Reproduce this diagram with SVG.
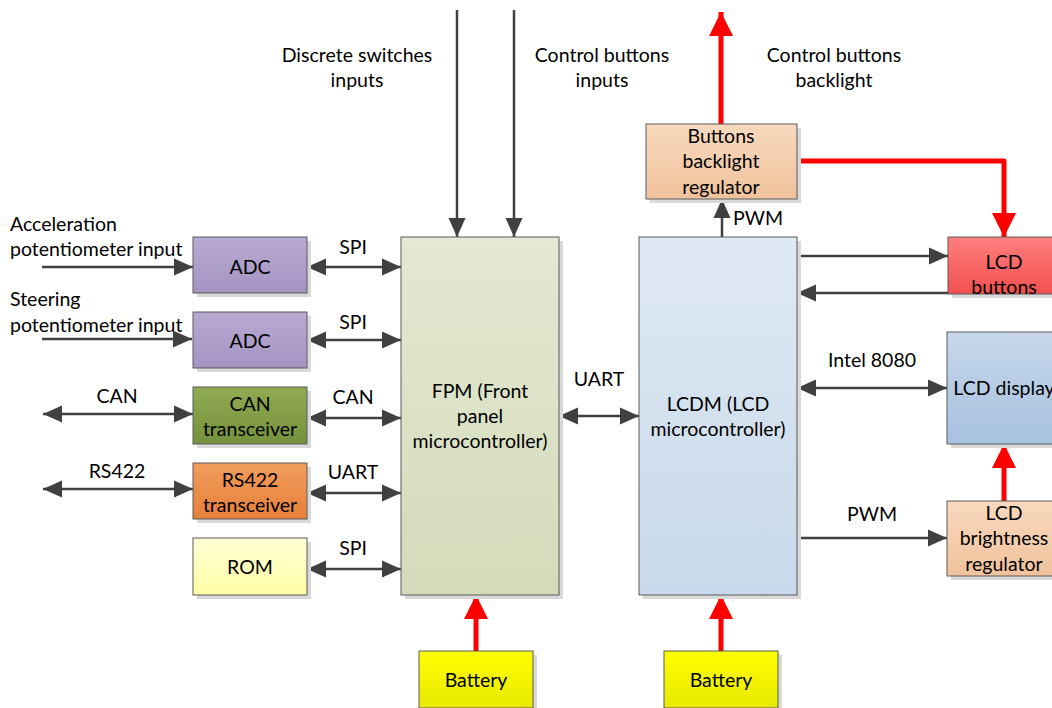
<svg xmlns="http://www.w3.org/2000/svg" width="1052" height="708" viewBox="0 0 1052 708">
<defs>
<linearGradient id="gADC" x1="0" y1="0" x2="0" y2="1"><stop offset="0" stop-color="#b8a9d2"/><stop offset="1" stop-color="#a594c2"/></linearGradient>
<linearGradient id="gCAN" x1="0" y1="0" x2="0" y2="1"><stop offset="0" stop-color="#91ab52"/><stop offset="1" stop-color="#76913c"/></linearGradient>
<linearGradient id="gRS" x1="0" y1="0" x2="0" y2="1"><stop offset="0" stop-color="#f19c5c"/><stop offset="1" stop-color="#e6803a"/></linearGradient>
<linearGradient id="gROM" x1="0" y1="0" x2="0" y2="1"><stop offset="0" stop-color="#ffffd4"/><stop offset="1" stop-color="#ffffa6"/></linearGradient>
<linearGradient id="gFPM" x1="0" y1="0" x2="0" y2="1"><stop offset="0" stop-color="#e3e9d2"/><stop offset="1" stop-color="#d3dbba"/></linearGradient>
<linearGradient id="gLCDM" x1="0" y1="0" x2="0" y2="1"><stop offset="0" stop-color="#dfe9f4"/><stop offset="1" stop-color="#c7d9ea"/></linearGradient>
<linearGradient id="gPEACH" x1="0" y1="0" x2="0" y2="1"><stop offset="0" stop-color="#f8d9be"/><stop offset="1" stop-color="#f0c29c"/></linearGradient>
<linearGradient id="gRED" x1="0" y1="0" x2="0" y2="1"><stop offset="0" stop-color="#ff7f7f"/><stop offset="1" stop-color="#f24f4f"/></linearGradient>
<linearGradient id="gDISP" x1="0" y1="0" x2="0" y2="1"><stop offset="0" stop-color="#c6d7eb"/><stop offset="1" stop-color="#a7c1df"/></linearGradient>
<linearGradient id="gBAT" x1="0" y1="0" x2="0" y2="1"><stop offset="0" stop-color="#ffff00"/><stop offset="1" stop-color="#e8e800"/></linearGradient>
<marker id="ah" markerUnits="userSpaceOnUse" markerWidth="19" markerHeight="18" viewBox="0 0 19 18" refX="19" refY="9" orient="auto-start-reverse">
<path d="M0,0.5 L19,9 L0,17.5 z" fill="#404040"/>
</marker>
<marker id="rh" markerUnits="userSpaceOnUse" markerWidth="24" markerHeight="24" viewBox="0 0 24 24" refX="24" refY="12" orient="auto-start-reverse">
<path d="M0,0 L24,12 L0,24 z" fill="#ff0000"/>
</marker>
</defs>
<style>
.sh{fill:#d9d9d9}
.bx{stroke:#5a5a5a;stroke-width:1}
text{font-family:Lato,"Open Sans","Liberation Sans",sans-serif;font-size:19.5px;fill:#000}
.c{text-anchor:middle}
.dk{stroke:#404040;stroke-width:2.5;fill:none}
.rd{stroke:#ff0000;stroke-width:5;fill:none}
</style>

<g id="labels">
<text x="10" y="231">Acceleration</text>
<text x="10" y="256">potentiometer input</text>
<text x="10" y="306">Steering</text>
<text x="10" y="332">potentiometer input</text>
<text class="c" x="357" y="62">Discrete switches</text>
<text class="c" x="357" y="87">inputs</text>
<text class="c" x="602" y="62">Control buttons</text>
<text class="c" x="602" y="87">inputs</text>
<text class="c" x="834" y="62">Control buttons</text>
<text class="c" x="834" y="87">backlight</text>
<text class="c" x="353" y="254">SPI</text>
<text class="c" x="353" y="329">SPI</text>
<text class="c" x="117" y="403">CAN</text>
<text class="c" x="353" y="404">CAN</text>
<text class="c" x="117" y="478">RS422</text>
<text class="c" x="353" y="479">UART</text>
<text class="c" x="353" y="555">SPI</text>
<text class="c" x="599" y="386">UART</text>
<text class="c" x="758" y="225">PWM</text>
<text class="c" x="872" y="367">Intel 8080</text>
<text class="c" x="872" y="521">PWM</text>
</g>

<g id="connectors">
<line class="dk" x1="42" y1="267" x2="193" y2="267" marker-end="url(#ah)"/>
<line class="dk" x1="42" y1="339" x2="192" y2="339" marker-end="url(#ah)"/>
<line class="dk" x1="307" y1="267" x2="401" y2="267" marker-start="url(#ah)" marker-end="url(#ah)"/>
<line class="dk" x1="307" y1="340" x2="401" y2="340" marker-start="url(#ah)" marker-end="url(#ah)"/>
<line class="dk" x1="43" y1="414" x2="193" y2="414" marker-start="url(#ah)" marker-end="url(#ah)"/>
<line class="dk" x1="307" y1="418" x2="401" y2="418" marker-start="url(#ah)" marker-end="url(#ah)"/>
<line class="dk" x1="43" y1="489" x2="193" y2="489" marker-start="url(#ah)" marker-end="url(#ah)"/>
<line class="dk" x1="307" y1="493" x2="401" y2="493" marker-start="url(#ah)" marker-end="url(#ah)"/>
<line class="dk" x1="307" y1="569" x2="401" y2="569" marker-start="url(#ah)" marker-end="url(#ah)"/>
<line class="dk" x1="559" y1="416" x2="639" y2="416" marker-start="url(#ah)" marker-end="url(#ah)"/>
<line class="dk" x1="457" y1="10" x2="457" y2="237" marker-end="url(#ah)"/>
<line class="dk" x1="514" y1="10" x2="514" y2="237" marker-end="url(#ah)"/>
<line class="dk" x1="722" y1="237" x2="722" y2="199" marker-end="url(#ah)"/>
<line class="dk" x1="797" y1="256" x2="948" y2="256" marker-end="url(#ah)"/>
<line class="dk" x1="948" y1="293" x2="797" y2="293" marker-end="url(#ah)"/>
<line class="dk" x1="797" y1="388" x2="947" y2="388" marker-start="url(#ah)" marker-end="url(#ah)"/>
<line class="dk" x1="797" y1="538" x2="947" y2="538" marker-end="url(#ah)"/>
<line class="rd" x1="721" y1="124" x2="721" y2="12" marker-end="url(#rh)"/>
<polyline class="rd" points="797,161 1004,161 1004,237" stroke-linejoin="round" marker-end="url(#rh)"/>
<line class="rd" x1="1004" y1="501" x2="1004" y2="444" marker-end="url(#rh)"/>
<line class="rd" x1="476" y1="651" x2="476" y2="595" marker-end="url(#rh)"/>
<line class="rd" x1="721" y1="651" x2="721" y2="595" marker-end="url(#rh)"/>
</g>

<g id="adc1"><rect class="sh" x="197" y="241" width="114" height="56"/><rect class="bx" x="193" y="237" width="114" height="56" fill="url(#gADC)"/><text class="c" x="250" y="274">ADC</text></g>
<g id="adc2"><rect class="sh" x="197" y="316" width="114" height="56"/><rect class="bx" x="193" y="312" width="114" height="56" fill="url(#gADC)"/><text class="c" x="250" y="348">ADC</text></g>
<g id="can"><rect class="sh" x="197" y="391" width="114" height="57"/><rect class="bx" x="193" y="387" width="114" height="57" fill="url(#gCAN)"/><text class="c" x="250" y="411">CAN</text><text class="c" x="250" y="436">transceiver</text></g>
<g id="rs422"><rect class="sh" x="197" y="467" width="114" height="56"/><rect class="bx" x="193" y="463" width="114" height="56" fill="url(#gRS)"/><text class="c" x="250" y="487">RS422</text><text class="c" x="250" y="512">transceiver</text></g>
<g id="rom"><rect class="sh" x="197" y="542" width="114" height="57"/><rect class="bx" x="193" y="538" width="114" height="57" fill="url(#gROM)"/><text class="c" x="250" y="574">ROM</text></g>
<g id="fpm"><rect class="sh" x="405" y="241" width="158" height="358"/><rect class="bx" x="401" y="237" width="158" height="358" fill="url(#gFPM)"/><text class="c" x="480" y="398">FPM (Front</text><text class="c" x="480" y="423">panel</text><text class="c" x="480" y="448">microcontroller)</text></g>
<g id="lcdm"><rect class="sh" x="643" y="241" width="158" height="358"/><rect class="bx" x="639" y="237" width="158" height="358" fill="url(#gLCDM)"/><text class="c" x="718" y="411">LCDM (LCD</text><text class="c" x="718" y="436">microcontroller)</text></g>
<g id="bbr"><rect class="sh" x="650" y="128" width="151" height="75"/><rect class="bx" x="646" y="124" width="151" height="75" fill="url(#gPEACH)"/><text class="c" x="721" y="143">Buttons</text><text class="c" x="721" y="168">backlight</text><text class="c" x="721" y="194">regulator</text></g>
<g id="lcdbuttons"><rect class="sh" x="952" y="241" width="114" height="57"/><rect class="bx" x="948" y="237" width="114" height="57" fill="url(#gRED)"/><text class="c" x="1004" y="269">LCD</text><text class="c" x="1004" y="294">buttons</text></g>
<g id="lcddisplay"><rect class="sh" x="951" y="336" width="114" height="112"/><rect class="bx" x="947" y="332" width="114" height="112" fill="url(#gDISP)"/><text class="c" x="1004" y="395">LCD display</text></g>
<g id="lcdbright"><rect class="sh" x="951" y="505" width="114" height="75"/><rect class="bx" x="947" y="501" width="114" height="75" fill="url(#gPEACH)"/><text class="c" x="1004" y="520">LCD</text><text class="c" x="1004" y="545">brightness</text><text class="c" x="1004" y="571">regulator</text></g>
<g id="battery1"><rect class="sh" x="423" y="655" width="114" height="57"/><rect class="bx" x="419" y="651" width="114" height="57" fill="url(#gBAT)"/><text class="c" x="476" y="687">Battery</text></g>
<g id="battery2"><rect class="sh" x="668" y="655" width="114" height="57"/><rect class="bx" x="664" y="651" width="114" height="57" fill="url(#gBAT)"/><text class="c" x="721" y="687">Battery</text></g>
</svg>
